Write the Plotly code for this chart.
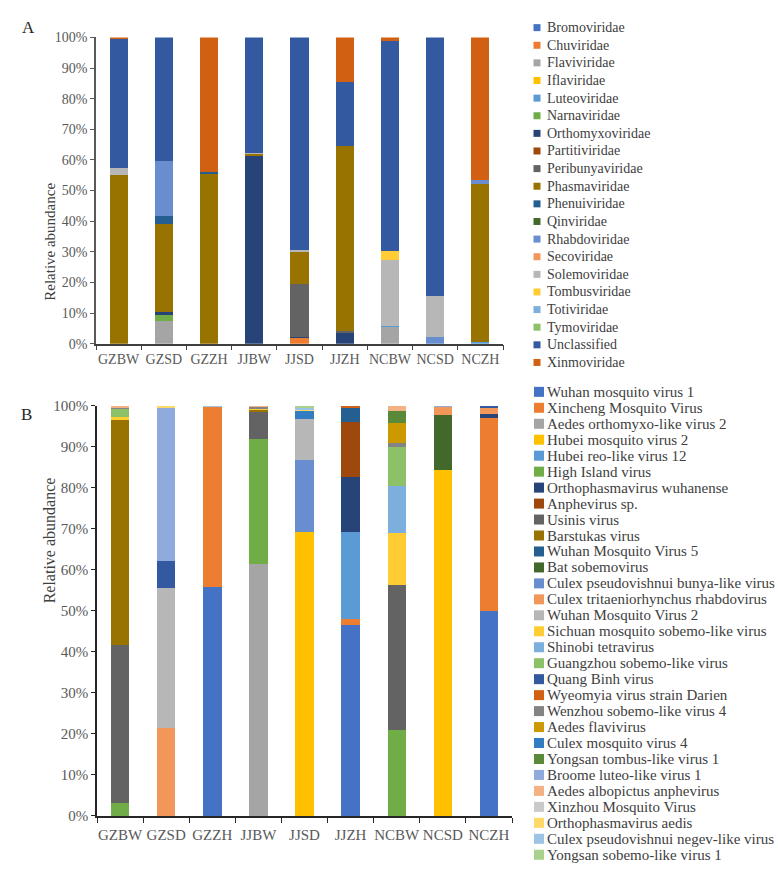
import plotly.graph_objects as go

samples = ["GZBW", "GZSD", "GZZH", "JJBW", "JJSD", "JJZH", "NCBW", "NCSD", "NCZH"]

families = ["Bromoviridae", "Chuviridae", "Flaviviridae", "Iflaviridae", "Luteoviridae",
            "Narnaviridae", "Orthomyxoviridae", "Partitiviridae", "Peribunyaviridae",
            "Phasmaviridae", "Phenuiviridae", "Qinviridae", "Rhabdoviridae", "Secoviridae",
            "Solemoviridae", "Tombusviridae", "Totiviridae", "Tymoviridae", "Unclassified",
            "Xinmoviridae"]

# Panel A: relative abundance (%) per sample, in family order
a_GZBW = [0, 0, 0, 0, 0, 0, 0, 0, 0, 55.0, 0, 0, 0, 0, 2.3, 0, 0, 0, 42.2, 0.5]
a_GZSD = [0, 0, 7.5, 0, 0, 1.8, 1.1, 0, 0, 28.8, 2.5, 0, 18.0, 0, 0, 0, 0, 0, 40.3, 0]
a_GZZH = [0, 0, 0, 0, 0, 0, 0, 0, 0, 55.5, 0.5, 0, 0, 0, 0, 0, 0, 0, 0, 44.0]
a_JJBW = [0, 0, 0, 0, 0, 0, 61.3, 0, 0, 0.6, 0, 0, 0, 0, 0.5, 0, 0, 0, 37.6, 0]
a_JJSD = [0, 1.8, 0, 0, 0, 0, 0.4, 0, 17.4, 10.5, 0, 0, 0, 0, 0.5, 0, 0, 0, 69.4, 0]
a_JJZH = [0, 0, 0, 0, 0, 0, 3.4, 0, 0.6, 60.4, 0, 0, 0, 0, 0, 0, 0, 0, 21.2, 14.4]
a_NCBW = [0, 0, 5.5, 0, 0.3, 0, 0, 0, 0, 0, 0, 0, 0, 0, 21.6, 3.0, 0, 0, 68.5, 1.1]
a_NCSD = [0, 0, 0, 0, 0, 0, 0, 0, 0, 0, 0, 0, 2.1, 0, 13.6, 0, 0, 0, 84.3, 0]
a_NCZH = [0, 0, 0, 0, 0.5, 0, 0, 0, 0, 51.5, 0, 0, 1.3, 0, 0, 0, 0, 0, 0, 46.7]

viruses = ["Wuhan mosquito virus 1", "Xincheng Mosquito Virus", "Aedes orthomyxo-like virus 2",
           "Hubei mosquito virus 2", "Hubei reo-like virus 12", "High Island virus",
           "Orthophasmavirus wuhanense", "Anphevirus sp.", "Usinis virus", "Barstukas virus",
           "Wuhan Mosquito Virus 5", "Bat sobemovirus", "Culex pseudovishnui bunya-like virus",
           "Culex tritaeniorhynchus rhabdovirus", "Wuhan Mosquito Virus 2",
           "Sichuan mosquito sobemo-like virus", "Shinobi tetravirus",
           "Guangzhou sobemo-like virus", "Quang Binh virus", "Wyeomyia virus strain Darien",
           "Wenzhou sobemo-like virus 4", "Aedes flavivirus", "Culex mosquito virus 4",
           "Yongsan tombus-like virus 1", "Broome luteo-like virus 1",
           "Aedes albopictus anphevirus", "Xinzhou Mosquito Virus", "Orthophasmavirus aedis",
           "Culex pseudovishnui negev-like virus", "Yongsan sobemo-like virus 1"]

# Panel B: relative abundance (%) per sample, in virus order
b_GZBW = [0, 0, 0, 0, 0, 3.2, 0, 0, 38.5, 55.1, 0, 0, 0, 0, 0, 0.4, 0, 2.1, 0, 0,
          0.3, 0, 0, 0, 0, 0.4, 0, 0, 0, 0]
b_GZSD = [0, 0, 0, 0, 0, 0, 0, 0, 0, 0, 0, 0, 0, 21.4, 34.1, 0, 0, 0, 6.7, 0,
          0, 0, 0, 0, 37.2, 0, 0, 0.6, 0, 0]
b_GZZH = [55.7, 44.1, 0, 0, 0, 0, 0, 0, 0, 0, 0, 0, 0, 0, 0, 0, 0, 0, 0, 0,
          0, 0, 0, 0, 0, 0, 0, 0, 0.2, 0]
b_JJBW = [0, 0, 61.4, 0, 0, 30.4, 0, 0, 6.85, 0.4, 0, 0, 0, 0, 0, 0.2, 0, 0, 0, 0,
          0.6, 0, 0, 0, 0, 0.15, 0, 0, 0, 0]
b_JJSD = [0, 0, 0, 69.1, 0, 0, 0, 0, 0, 0, 0, 0, 17.6, 0, 9.95, 0, 0, 0, 0, 0,
          0, 0, 2.0, 0, 0, 0, 0, 0.55, 0.3, 0.5]
b_JJZH = [46.5, 1.4, 0, 0, 21.2, 0, 13.6, 13.3, 0, 0, 3.45, 0, 0, 0, 0, 0, 0, 0, 0, 0.55,
          0, 0, 0, 0, 0, 0, 0, 0, 0, 0]
b_NCBW = [0, 0, 0, 0, 0, 21.0, 0, 0, 35.3, 0, 0, 0, 0, 0, 0, 12.6, 11.4, 9.7, 0, 0,
          0.8, 5.0, 0, 3.0, 0, 1.2, 0, 0, 0, 0]
b_NCSD = [0, 0, 0, 84.2, 0, 0, 0, 0, 0, 0, 0, 13.6, 0, 2.0, 0, 0, 0, 0, 0, 0,
          0, 0, 0, 0, 0.2, 0, 0, 0, 0, 0]
b_NCZH = [50.0, 47.0, 0, 0, 0, 0, 1.0, 0, 0, 0, 0, 0, 0, 1.35, 0, 0, 0, 0, 0.65, 0,
          0, 0, 0, 0, 0, 0, 0, 0, 0, 0]

palette = ["#4472C4", "#ED7D31", "#A5A5A5", "#FFC000", "#5B9BD5", "#70AD47", "#264478",
           "#9E480E", "#636363", "#997300", "#255E91", "#43682B", "#698ED0", "#F1975A",
           "#B7B7B7", "#FFCD33", "#7CAFDD", "#8CC168", "#335AA1", "#D26012", "#848484",
           "#CC9A00", "#327DC2", "#5A8A39", "#8FAADC", "#F4B183", "#C9C9C9", "#FFD966",
           "#9DC3E6", "#A9D18E"]

W, H = 778, 874
SERIF = "Liberation Serif, Times New Roman, serif"

a_rows = [a_GZBW, a_GZSD, a_GZZH, a_JJBW, a_JJSD, a_JJZH, a_NCBW, a_NCSD, a_NCZH]
b_rows = [b_GZBW, b_GZSD, b_GZZH, b_JJBW, b_JJSD, b_JJZH, b_NCBW, b_NCSD, b_NCZH]

fig = go.Figure()
for i, name in enumerate(families):
    fig.add_trace(go.Bar(x=samples, y=[r[i] for r in a_rows], name=name,
                         marker=dict(color=palette[i], line=dict(width=0)),
                         xaxis="x", yaxis="y", showlegend=False))
for i, name in enumerate(viruses):
    fig.add_trace(go.Bar(x=samples, y=[r[i] for r in b_rows], name=name,
                         marker=dict(color=palette[i], line=dict(width=0)),
                         xaxis="x2", yaxis="y2", showlegend=False))

# custom legends on a pixel overlay axis
def add_legend(names, mx, msize, tx, y0, step, fsize):
    ys = [y0 + k * step for k in range(len(names))]
    fig.add_trace(go.Scatter(x=[mx] * len(names), y=ys, mode="markers",
                             marker=dict(symbol="square", size=msize, color=palette[:len(names)],
                                         line=dict(width=0)),
                             xaxis="x3", yaxis="y3", showlegend=False, hoverinfo="skip"))
    for k, nm in enumerate(names):
        fig.add_annotation(x=tx, y=ys[k], xref="x3", yref="y3", text=nm, showarrow=False,
                           xanchor="left", yanchor="middle",
                           font=dict(family=SERIF, size=fsize, color="#404040"))

add_legend(families, 537, 7, 545, 20, 17.95, 14)
add_legend(viruses, 539, 10, 545, 391, 16.26, 15)

def px_x(a, b):
    return [a / W, b / W]

def px_y(top, bottom):
    return [(H - bottom) / H, (H - top) / H]

tickfont_a = dict(family=SERIF, size=14, color="#595959")
tickfont_b = dict(family=SERIF, size=15, color="#595959")

fig.update_layout(
    width=W, height=H, margin=dict(l=0, r=0, t=0, b=0),
    paper_bgcolor="white", plot_bgcolor="rgba(0,0,0,0)",
    barmode="stack", bargap=0.6,
    xaxis=dict(domain=px_x(96, 503), type="category", tickson="boundaries", ticks="outside",
               ticklen=5, tickcolor="#404040", showline=True, linecolor="#404040", linewidth=1.5,
               showgrid=False, tickfont=tickfont_a, tickangle=0, ticklabelstandoff=2,
               anchor="y", fixedrange=True),
    yaxis=dict(domain=px_y(30, 342), range=[0, 100], dtick=10, ticksuffix="%", ticks="outside",
               ticklen=4, tickcolor="#595959", showline=True, linecolor="#595959", linewidth=1.5,
               showgrid=False, zeroline=False, tickfont=tickfont_a, anchor="x", fixedrange=True),
    xaxis2=dict(domain=px_x(97, 512), type="category", tickson="boundaries", ticks="outside",
                ticklen=5, tickcolor="#262626", showline=True, linecolor="#262626", linewidth=1.5,
                showgrid=False, tickfont=tickfont_b, tickangle=0, ticklabelstandoff=4,
                anchor="y2", fixedrange=True),
    yaxis2=dict(domain=px_y(405, 823), range=[0, 100], dtick=10, ticksuffix="%", ticks="outside",
                ticklen=4, tickcolor="#262626", showline=True, linecolor="#262626", linewidth=1.5,
                showgrid=False, zeroline=False, tickfont=tickfont_b, anchor="x2", fixedrange=True),
    xaxis3=dict(domain=[0, 1], range=[0, W], visible=False, fixedrange=True, anchor="y3"),
    yaxis3=dict(domain=[0, 1], range=[H, 0], visible=False, fixedrange=True, anchor="x3"),
)

# panel labels and axis titles
fig.add_annotation(x=20 / W, y=(H - 8) / H, xref="paper", yref="paper", text="A",
                   showarrow=False, font=dict(family=SERIF, size=17, color="#262626"))
fig.add_annotation(x=19 / W, y=(H - 414) / H, xref="paper", yref="paper", text="B",
                   showarrow=False, font=dict(family=SERIF, size=17, color="#262626"))
fig.add_annotation(x=40 / W, y=(H - 176) / H, xref="paper", yref="paper",
                   text="Relative abundance", textangle=-90, showarrow=False,
                   font=dict(family=SERIF, size=15, color="#404040"))
fig.add_annotation(x=39 / W, y=(H - 609) / H, xref="paper", yref="paper",
                   text="Relative abundance", textangle=-90, showarrow=False,
                   font=dict(family=SERIF, size=16, color="#404040"))

fig.write_html("out.html")
